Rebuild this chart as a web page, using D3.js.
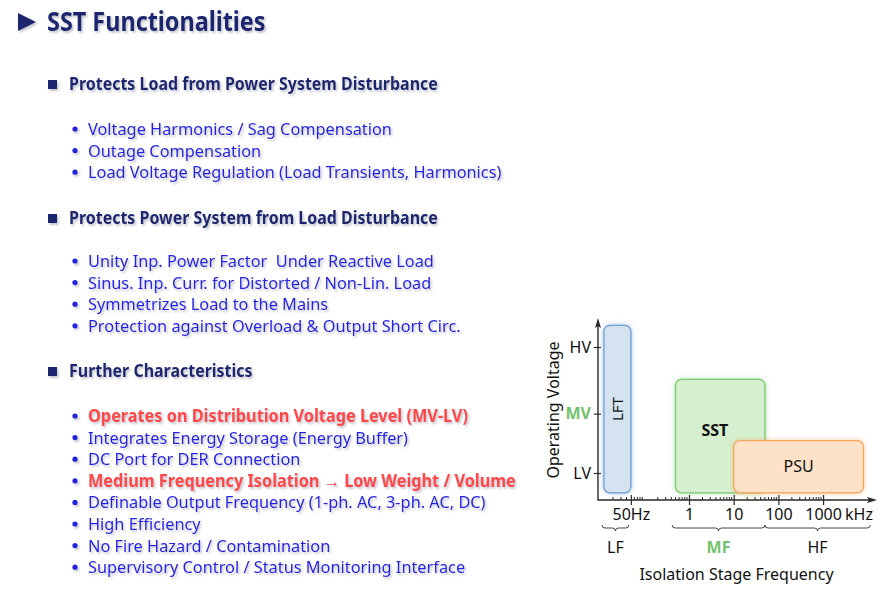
<!DOCTYPE html>
<html lang="en">
<head>
<meta charset="utf-8">
<title>SST Functionalities</title>
<script src="https://cdn.jsdelivr.net/npm/d3@7"></script>
<style>
  body { margin: 0; background: #fff; }
  svg { display: block; }
  text { font-family: "Noto Sans", sans-serif; white-space: pre; }
</style>
</head>
<body>
<script>
// ---------- data

var title = "SST Functionalities";
var sections = ["Protects Load from Power System Disturbance",
                "Protects Power System from Load Disturbance",
                "Further Characteristics"];
var sectionItems = [
  ["Voltage Harmonics / Sag Compensation",
   "Outage Compensation",
   "Load Voltage Regulation (Load Transients, Harmonics)"],
  ["Unity Inp. Power Factor  Under Reactive Load",
   "Sinus. Inp. Curr. for Distorted / Non-Lin. Load",
   "Symmetrizes Load to the Mains",
   "Protection against Overload & Output Short Circ."],
  ["Operates on Distribution Voltage Level (MV-LV)",
   "Integrates Energy Storage (Energy Buffer)",
   "DC Port for DER Connection",
   "Medium Frequency Isolation \u2192 Low Weight / Volume",
   "Definable Output Frequency (1-ph. AC, 3-ph. AC, DC)",
   "High Efficiency",
   "No Fire Hazard / Contamination",
   "Supervisory Control / Status Monitoring Interface"]
];
var highlighted = ["Operates on Distribution Voltage Level (MV-LV)",
                   "Medium Frequency Isolation \u2192 Low Weight / Volume"];

// voltage levels (relative units, 0..100 along the axis)
var voltLevels = ["LV", "MV", "HV"];
var voltValues = [15, 48, 85];

// frequency ticks in kHz
var freqTicks = [0.05, 1, 10, 100, 1000];
var freqLabels = ["50Hz", "1", "10", "100", "1000"];

// converter regions: frequency range (kHz) and voltage range
var boxNames = ["LFT", "SST", "PSU"];
var boxFreqLo = [0.0125, 0.5, 10];
var boxFreqHi = [0.05, 50, 8000];
var boxVoltLo = [4, 4, 4];
var boxVoltHi = [97, 67, 33];

// frequency bands under the axis
var bandNames = ["LF", "MF", "HF"];
var bandLo = [0.0113, 0.42, 50];
var bandHi = [0.045, 50, 11300];

// ---------- layout

var w = 892, h = 598;
var navy = "#1a2870", blue = "#2424e2", red = "#ff4646", green = "#73c26b";
var boxFill = ["#d5e3f1", "#d5efcf", "#fde2c8"];
var boxStroke = ["#6f9fd3", "#7cc96f", "#f6a55c"];

var svg = d3.select("body").append("svg")
    .attr("width", w).attr("height", h);

var defs = svg.append("defs");
var shadow = defs.append("filter").attr("id", "shadow")
    .attr("x", "-5%").attr("y", "-30%").attr("width", "110%").attr("height", "160%");
shadow.append("feDropShadow").attr("dx", 1.5).attr("dy", 1.8)
    .attr("stdDeviation", 1.2).attr("flood-color", "#8a8aa0").attr("flood-opacity", 0.55);

boxStroke.forEach(function(c, i) {
  var f = defs.append("filter").attr("id", "glow" + i)
      .attr("x", "-20%").attr("y", "-20%").attr("width", "140%").attr("height", "140%");
  f.append("feGaussianBlur").attr("in", "SourceAlpha").attr("stdDeviation", 2.5).attr("result", "b");
  f.append("feFlood").attr("flood-color", c).attr("flood-opacity", 0.6);
  f.append("feComposite").attr("in2", "b").attr("operator", "in").attr("result", "g");
  var m = f.append("feMerge");
  m.append("feMergeNode").attr("in", "g");
  m.append("feMergeNode").attr("in", "SourceGraphic");
});

// ---------- left text block

var txt = svg.append("g").attr("filter", "url(#shadow)");

txt.append("path").attr("d", "M18,13 L36,22 L18,31 Z").attr("fill", navy);
txt.append("text").attr("class", "cond").attr("data-f", 0.90)
    .attr("x", 47).attr("y", 31)
    .attr("font-size", 26).attr("font-weight", "bold").attr("fill", navy)
    .text(title);

var headY = [90, 224, 377];
var firstItemY = [135, 267, 422];
var lineGap = 21.6;

sections.forEach(function(s, i) {
  txt.append("rect").attr("x", 48).attr("y", headY[i] - 10)
      .attr("width", 9).attr("height", 9).attr("fill", navy);
  txt.append("text").attr("class", "cond").attr("data-f", 0.887)
      .attr("x", 69).attr("y", headY[i])
      .attr("font-size", 18).attr("font-weight", "bold").attr("fill", navy)
      .text(s);

  var items = txt.selectAll(".item" + i)
      .data(sectionItems[i])
      .enter().append("g")
      .attr("transform", function(d, j) {
        return "translate(0," + (firstItemY[i] + j * lineGap) + ")";
      });
  items.append("circle").attr("cx", 75).attr("cy", -6).attr("r", 2.6)
      .attr("fill", blue);
  items.append("text").attr("class", "cond")
      .attr("data-f", function(d) { return highlighted.indexOf(d) >= 0 ? 0.957 : 0.96; })
      .attr("x", 88).attr("y", 0)
      .attr("font-size", 17)
      .attr("font-weight", function(d) { return highlighted.indexOf(d) >= 0 ? "bold" : "normal"; })
      .attr("fill", function(d) { return highlighted.indexOf(d) >= 0 ? red : blue; })
      .text(function(d) { return d; });
});

// narrow the glyphs to the look of the original condensed face
svg.selectAll("text.cond").each(function() {
  var el = d3.select(this);
  var len = this.getComputedTextLength();
  el.attr("textLength", len * (+el.attr("data-f"))).attr("lengthAdjust", "spacingAndGlyphs");
});

// ---------- chart

var x0 = 598, x1 = 875, y0 = 500, y1 = 320;
var xScale = d3.scaleLog().domain([0.0092, 14500]).range([x0, x1]);
var yScale = d3.scaleLinear().domain([0, 100]).range([y0, y1]);

var chart = svg.append("g");
var ink = "#2a2a2a";

// regions
chart.selectAll("rect.box")
    .data(boxNames)
    .enter().append("rect")
    .attr("class", "box")
    .attr("x", function(d, i) { return xScale(boxFreqLo[i]); })
    .attr("y", function(d, i) { return yScale(boxVoltHi[i]); })
    .attr("width", function(d, i) { return xScale(boxFreqHi[i]) - xScale(boxFreqLo[i]); })
    .attr("height", function(d, i) { return yScale(boxVoltLo[i]) - yScale(boxVoltHi[i]); })
    .attr("rx", 6)
    .attr("fill", function(d, i) { return boxFill[i]; })
    .attr("stroke", function(d, i) { return boxStroke[i]; })
    .attr("stroke-width", 1.3)
    .attr("filter", function(d, i) { return "url(#glow" + i + ")"; });

// region labels
var lft = [Math.sqrt(boxFreqLo[0] * boxFreqHi[0]), (boxVoltLo[0] + boxVoltHi[0]) / 2];
chart.append("text")
    .attr("transform", "translate(" + (xScale(lft[0]) + 5.5) + "," + yScale(lft[1]) + ") rotate(-90)")
    .attr("text-anchor", "middle").attr("font-size", 15).attr("fill", "#111")
    .text(boxNames[0]);
chart.append("text")
    .attr("x", xScale(3.8)).attr("y", yScale(39) + 6)
    .attr("text-anchor", "middle").attr("font-size", 16).attr("font-weight", "bold").attr("fill", "#111")
    .text(boxNames[1]);
chart.append("text")
    .attr("x", xScale(Math.sqrt(boxFreqLo[2] * boxFreqHi[2]))).attr("y", yScale((boxVoltLo[2] + boxVoltHi[2]) / 2) + 5.5)
    .attr("text-anchor", "middle").attr("font-size", 16).attr("fill", "#111")
    .text(boxNames[2]);

// minor frequency ticks (decades 0.01 .. 1000, the 0.1 decade step is left out)
var minor = [];
[0.01, 0.1, 1, 10, 100].forEach(function(dec) {
  for (var k = 2; k <= 9; k++) {
    if (dec === 0.01 && k === 5) continue;
    minor.push(dec * k);
  }
});
chart.selectAll("line.minor")
    .data(minor)
    .enter().append("line")
    .attr("x1", function(d) { return xScale(d); })
    .attr("x2", function(d) { return xScale(d); })
    .attr("y1", y0).attr("y2", y0 - 3)
    .attr("stroke", ink).attr("stroke-width", 1);

// x axis
var xAxis = d3.axisBottom(xScale)
    .tickValues(freqTicks)
    .tickSize(5)
    .tickFormat(function(d, i) { return freqLabels[i]; });
var gx = chart.append("g").attr("transform", "translate(0," + y0 + ")").call(xAxis);
gx.select(".domain").remove();
gx.selectAll(".tick line").attr("y1", -5).attr("stroke", ink).attr("stroke-width", 1.2);
gx.selectAll(".tick text").attr("dy", "0").attr("y", 20)
    .attr("font-family", "Noto Sans, sans-serif").attr("font-size", 16).attr("fill", "#111");
chart.append("text")
    .attr("x", xScale(1000) + 22).attr("y", y0 + 20)
    .attr("font-size", 16).attr("fill", "#111")
    .text("kHz");

// y axis
var yAxis = d3.axisLeft(yScale)
    .tickValues(voltValues)
    .tickSize(4)
    .tickFormat(function(d, i) { return voltLevels[i]; });
var gy = chart.append("g").attr("transform", "translate(" + x0 + ",0)").call(yAxis);
gy.select(".domain").remove();
gy.selectAll(".tick line").attr("x1", -4).attr("x2", 3).attr("stroke", ink).attr("stroke-width", 1.2);
gy.selectAll(".tick text").attr("x", -7)
    .attr("font-family", "Noto Sans, sans-serif").attr("font-size", 16)
    .attr("fill", function(d, i) { return voltLevels[i] === "MV" ? green : "#111"; })
    .attr("font-weight", function(d, i) { return voltLevels[i] === "MV" ? "bold" : "normal"; });

// axis lines with arrow heads
chart.append("path")
    .attr("d", "M" + x0 + "," + (y1 + 4) + "V" + y0 + "H" + (x1 - 5))
    .attr("fill", "none").attr("stroke", ink).attr("stroke-width", 1.4);
chart.append("path")
    .attr("d", "M" + x0 + "," + (y1 - 2) + "l-3,10 l3,-2 l3,2 Z").attr("fill", ink);
chart.append("path")
    .attr("d", "M" + (x1 + 2) + "," + y0 + "l-10,-3 l2,3 l-2,3 Z").attr("fill", ink);

// braces under the axis
function brace(a, b, y) {
  var m = (a + b) / 2, d = 3;
  return "M" + a + "," + y +
    " q0," + d + " " + d + "," + d +
    " H" + (m - d) +
    " q" + d + ",0 " + d + "," + d +
    " q0,-" + d + " " + d + ",-" + d +
    " H" + (b - d) +
    " q" + d + ",0 " + d + ",-" + d;
}
var braceY = 525;
chart.selectAll("path.brace")
    .data(bandNames)
    .enter().append("path")
    .attr("class", "brace")
    .attr("d", function(d, i) {
      return brace(xScale(bandLo[i]), xScale(bandHi[i]), braceY);
    })
    .attr("fill", "none").attr("stroke", "#444").attr("stroke-width", 1);

chart.selectAll("text.band")
    .data(bandNames)
    .enter().append("text")
    .attr("class", "band")
    .attr("x", function(d, i) { return (xScale(bandLo[i]) + xScale(bandHi[i])) / 2; })
    .attr("y", 553)
    .attr("text-anchor", "middle").attr("font-size", 16)
    .attr("font-weight", function(d) { return d === "MF" ? "bold" : "normal"; })
    .attr("fill", function(d) { return d === "MF" ? green : "#111"; })
    .text(function(d) { return d; });

// axis titles
chart.append("text")
    .attr("x", (x0 + x1) / 2).attr("y", 580)
    .attr("text-anchor", "middle").attr("font-size", 16).attr("fill", "#111")
    .text("Isolation Stage Frequency");
chart.append("text")
    .attr("transform", "translate(559,410) rotate(-90)")
    .attr("text-anchor", "middle").attr("font-size", 16).attr("fill", "#111")
    .text("Operating Voltage");
</script>
</body>
</html>
